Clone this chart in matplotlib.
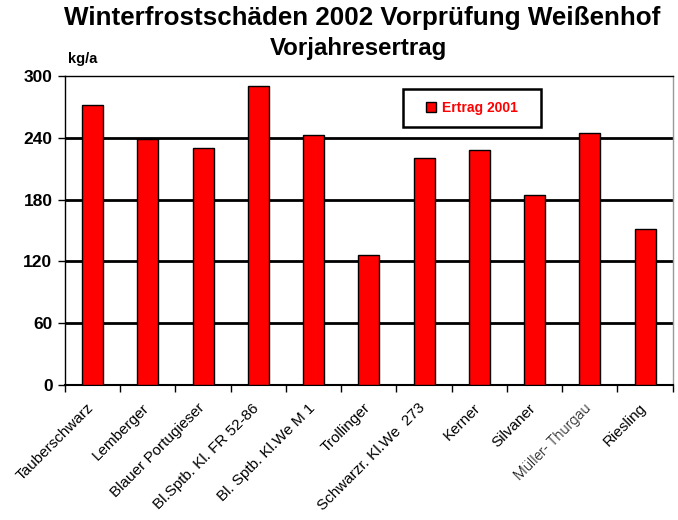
import matplotlib
matplotlib.use("Agg")
import matplotlib.pyplot as plt
import numpy as np
from matplotlib import font_manager
from matplotlib.patches import Patch, Rectangle
from matplotlib.transforms import ScaledTranslation

plt.rcParams['font.family'] = ['Liberation Sans', 'DejaVu Sans']

categories = ["Tauberschwarz", "Lemberger", "Blauer Portugieser", "Bl.Sptb. Kl. FR 52-86",
              "Bl. Sptb. Kl.We M 1", "Trollinger", "Schwarzr. Kl.We  273", "Kerner",
              "Silvaner", "Müller- Thurgau", "Riesling"]
ertrag_2001 = [272, 239, 230, 290, 243, 126, 220, 228, 184, 245, 151]
yticks = [0, 60, 120, 180, 240, 300]

ttf = font_manager.fontManager.ttflist
installed = {f.name for f in ttf}
narrow = 'Liberation Sans Narrow' in installed

# find a light (weight 300) sans font for the thin label
light_family = None
for fam in ['Roboto', 'Open Sans', 'Noto Sans', 'Lato', 'Inter']:
    for f in ttf:
        w = f.weight if isinstance(f.weight, int) else 400
        if f.name == fam and 250 <= w <= 350 and f.style == 'normal':
            light_family = fam
            break
    if light_family:
        break

fig = plt.figure(figsize=(6.78, 5.20), dpi=100)
ax = fig.add_axes([65/678, 1-385/520, (672.7-65)/678, (385-76)/520])

x = np.arange(len(categories))
ax.bar(x, ertrag_2001, width=0.38, color='#ff0000', edgecolor='black', linewidth=1.0, zorder=3,
       label='Ertrag 2001')

ax.set_xlim(-0.5, len(categories) - 0.5)
ax.set_ylim(0, 300)
ax.set_yticks(yticks)
ax.set_yticklabels([str(v) for v in yticks], fontsize=12.5, fontweight='bold')
for v in yticks[1:-1]:
    ax.axhline(v, color='black', linewidth=2, zorder=1)

# category boundary ticks
ax.set_xticks(np.arange(len(categories) + 1) - 0.5)
ax.set_xticklabels([])
ax.tick_params(axis='x', length=5, width=1, color='black', direction='out')
ax.tick_params(axis='y', length=5, width=1, color='black', direction='out', pad=4)

# category labels
off = ScaledTranslation(-6/100, -16/100, fig.dpi_scale_trans)
for i, name in enumerate(categories):
    kw = dict(fontsize=11)
    if name.startswith('Müller'):
        if light_family:
            kw.update(family=[light_family, 'Liberation Sans'], fontweight=300, fontsize=10.5)
        else:
            kw.update(color='#333333')
    ax.text(x[i], 0, name, rotation=45, ha='right', va='top', rotation_mode='anchor',
            transform=ax.get_xaxis_transform() + off, **kw)

ax.spines['left'].set_color('black')
ax.spines['left'].set_linewidth(1)
ax.spines['bottom'].set_color('black')
ax.spines['bottom'].set_linewidth(1.5)
ax.spines['top'].set_color('black')
ax.spines['top'].set_linewidth(1)
ax.spines['right'].set_color('#999999')
ax.spines['right'].set_linewidth(1)

# legend with custom frame
W = (672.7 - 65)
H = (385 - 76)
ax.add_patch(Rectangle(((403-65)/W, 1-(127-76)/H), 138/W, 38/H, transform=ax.transAxes,
                       facecolor='white', edgecolor='black', linewidth=1.8, zorder=4))
handle = Patch(facecolor='#ff0000', edgecolor='black', linewidth=1)
leg = ax.legend([handle], ['Ertrag 2001'], loc='center',
                bbox_to_anchor=((472-65)/W, 1-(108-76)/H), frameon=False,
                handlelength=0.7, handleheight=0.7, borderaxespad=0, borderpad=0,
                handletextpad=0.4, prop={'weight': 'bold', 'size': 10})
leg.set_zorder(5)
for t in leg.get_texts():
    t.set_color('#ff0000')

if narrow:
    tfam = ['Liberation Sans Narrow', 'Liberation Sans']
    tsize, ssize = 23, 20
else:
    tfam = ['Liberation Sans', 'DejaVu Sans']
    tsize, ssize = 18.7, 17.3
fig.text(362/678, 1-18/520, "Winterfrostschäden 2002 Vorprüfung Weißenhof", ha='center', va='center',
         fontsize=tsize, fontweight='bold', family=tfam)
fig.text(358/678, 1-48/520, "Vorjahresertrag", ha='center', va='center', fontsize=ssize,
         fontweight='bold', family=tfam)
fig.text(68/678, 1-59/520, "kg/a", ha='left', va='center', fontsize=10.5, fontweight='bold')

fig.savefig("out.png", dpi=100)
